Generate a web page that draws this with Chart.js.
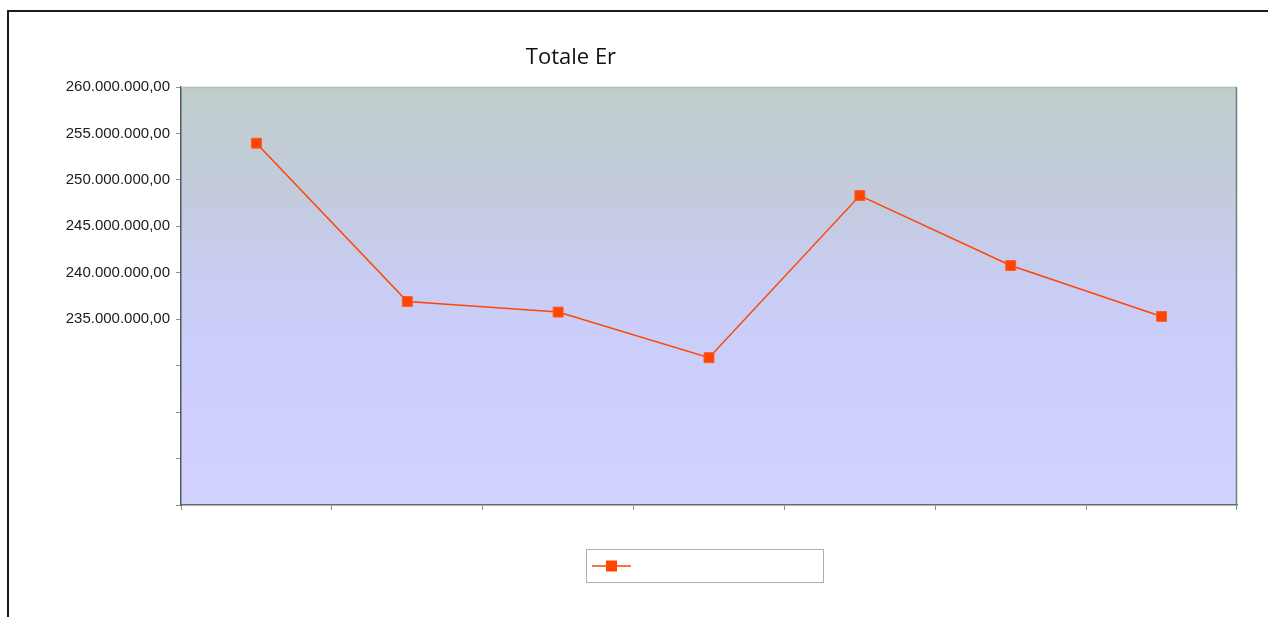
<!DOCTYPE html>
<html>
<head>
<meta charset="utf-8">
<script src="https://cdn.jsdelivr.net/npm/chart.js@4"></script>
<style>
  html, body { margin: 0; padding: 0; background: #fff; }
  #wrap { position: relative; width: 1268px; height: 617px; overflow: hidden; }
  #frame { position: absolute; left: 7px; top: 10px; right: -4px; bottom: -4px;
           border-left: 2px solid #1c1c1c; border-top: 2px solid #1c1c1c; pointer-events: none; }
  #title { position: absolute; left: 471px; top: 40px; width: 200px; text-align: center;
           font: 22px/30px "Open Sans", "Noto Sans", sans-serif; color: #111; }
  canvas { position: absolute; left: 0; top: 0; }
</style>
</head>
<body>
<div id="wrap">
  <canvas id="chart" width="1268" height="617"></canvas>
  <div id="frame"></div>
  <div id="title">Totale Er</div>
</div>
<script>
// Seven periods, one total per period
const categories = ['1', '2', '3', '4', '5', '6', '7'];
const totals = [253950000, 236910000, 235770000, 230860000, 248310000, 240780000, 235300000];
const seriesLabel = '';

// Value axis range and the lowest value that carries a printed label
const yMin = 215000000;
const yMax = 260000000;
const yStep = 5000000;
const yLabelFrom = 235000000;

const lineColor = '#ff4500';

function formatIt(v) {
  const neg = v < 0;
  const intPart = Math.round(Math.abs(v)).toString().replace(/\B(?=(\d{3})+(?!\d))/g, '.');
  return (neg ? '-' : '') + intPart + ',00';
}

// Gradient plot background plus border sides of the plot frame
const plotBackground = {
  id: 'plotBackground',
  beforeDraw(chart) {
    const { ctx, chartArea: a } = chart;
    const g = ctx.createLinearGradient(0, a.top, 0, a.bottom);
    g.addColorStop(0, '#c0cecd');
    g.addColorStop(0.25, '#c3cbdc');
    g.addColorStop(0.5, '#c9cdf6');
    g.addColorStop(1, '#d2d2ff');
    ctx.save();
    ctx.fillStyle = g;
    ctx.fillRect(a.left, a.top, a.right - a.left, a.bottom - a.top);
    ctx.restore();
  },
  afterDraw(chart) {
    const { ctx, chartArea: a } = chart;
    ctx.save();
    ctx.lineWidth = 1.5;
    ctx.strokeStyle = '#b4bcbc';
    ctx.beginPath();
    ctx.moveTo(a.left, a.top + 0.5);
    ctx.lineTo(a.right, a.top + 0.5);
    ctx.stroke();
    ctx.strokeStyle = '#6e7f7f';
    ctx.beginPath();
    ctx.moveTo(a.right - 0.5, a.top);
    ctx.lineTo(a.right - 0.5, a.bottom);
    ctx.stroke();
    ctx.restore();
  }
};

// Boxed legend with a line-and-marker sample
const boxedLegend = {
  id: 'boxedLegend',
  afterDraw(chart) {
    const { ctx } = chart;
    const ds = chart.data.datasets[0];
    const x = 586, y = 549, w = 237, h = 33;
    ctx.save();
    ctx.fillStyle = '#ffffff';
    ctx.fillRect(x, y, w, h);
    ctx.lineWidth = 1;
    ctx.strokeStyle = '#a9b0b0';
    ctx.strokeRect(x + 0.5, y + 0.5, w, h);
    const cy = y + 17;
    ctx.strokeStyle = ds.borderColor;
    ctx.lineWidth = 1.5;
    ctx.beginPath();
    ctx.moveTo(x + 6, cy);
    ctx.lineTo(x + 45, cy);
    ctx.stroke();
    ctx.fillStyle = ds.pointBackgroundColor;
    ctx.fillRect(x + 20, cy - 5.5, 11, 11);
    ctx.fillStyle = '#111';
    ctx.font = '14px "Liberation Sans", Arial, sans-serif';
    ctx.textBaseline = 'middle';
    ctx.fillText(ds.label, x + 52, cy);
    ctx.restore();
  }
};

new Chart(document.getElementById('chart'), {
  type: 'line',
  data: {
    labels: categories,
    datasets: [{
      label: seriesLabel,
      data: totals,
      borderColor: lineColor,
      backgroundColor: lineColor,
      borderWidth: 1.5,
      pointStyle: 'rect',
      pointRadius: 7,
      pointBorderWidth: 1,
      pointBackgroundColor: lineColor,
      pointBorderColor: '#ff5a2a',
      tension: 0,
      fill: false
    }]
  },
  options: {
    responsive: false,
    animation: false,
    events: [],
    layout: { padding: { top: 87, right: 31, bottom: 0, left: 0 } },
    plugins: {
      legend: { display: false },
      title: { display: false },
      tooltip: { enabled: false }
    },
    scales: {
      x: {
        type: 'category',
        offset: true,
        grid: { offset: true, drawOnChartArea: false, tickLength: 5, color: '#8a8f8f', tickWidth: 1 },
        border: { display: true, color: '#5f6d6d', width: 1.5 },
        ticks: { display: false },
        afterFit(scale) { scale.height = 112; }
      },
      y: {
        min: yMin,
        max: yMax,
        grid: { drawOnChartArea: false, tickLength: 5, color: '#8a8f8f', tickWidth: 1 },
        border: { display: true, color: '#4f5a5a', width: 1.5 },
        ticks: {
          stepSize: yStep,
          padding: 6,
          color: '#1a1a1a',
          font: { family: '"Liberation Sans", Arial, sans-serif', size: 15 },
          callback: (v) => (v >= yLabelFrom ? formatIt(v) : '')
        },
        afterFit(scale) { scale.width = 181; }
      }
    }
  },
  plugins: [plotBackground, boxedLegend]
});
</script>
</body>
</html>
